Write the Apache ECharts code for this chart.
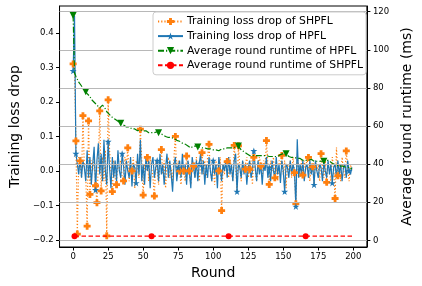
<!DOCTYPE html>
<html><head><meta charset="utf-8">
<script src="https://cdn.jsdelivr.net/npm/echarts@6/dist/echarts.min.js"></script>
<style>html,body{margin:0;padding:0;background:#fff}#c{width:422px;height:286px}</style>
</head><body><div id="c"></div>
<script>
// ---- data ----
const xTicks = [0, 25, 50, 75, 100, 125, 150, 175, 200];
const lossTicks = [-0.2, -0.1, 0.0, 0.1, 0.2, 0.3, 0.4];
const timeTicks = [0, 20, 40, 60, 80, 100, 120];
const seriesNames = ['Training loss drop of SHPFL', 'Training loss drop of HPFL',
  'Average round runtime of HPFL', 'Average round runtime of SHPFL'];

const lossSHPFL = [
  .31, .29, .087, -.183, .04, .029, -.02, .16, .01, -.01,
  -.16, .145, -.068, .03, .00, .05, -.043, -.092, .02, .174,
  -.058, .04, -.03, .06, -.188, .206, .06, .00, -.06, .03,
  -.02, -.04, .05, .00, .03, -.02, -.029, .04, .01, .067,
  -.03, .02, .00, .04, -.05, .03, .01, -.02, .121, .03,
  -.07, .02, .00, .039, -.03, .04, .01, -.02, -.073, .03,
  .00, -.04, .02, .062, -.01, .03, -.05, .02, .04, -.02,
  .01, -.03, .04, .10, -.02, .03, .00, -.04, .02, .00,
  -.03, .043, .01, .00, -.04, .03, .014, -.02, .04, .00,
  -.03, .02, .053, -.01, .03, -.02, .04, .077, .00, -.03,
  .02, -.04, .03, .01, .00, .04, -.115, .02, -.01, .03,
  .027, -.02, .04, .00, -.03, .074, .02, -.06, .073, .01,
  -.03, .03, .00, .005, .04, -.02, .005, .03, -.04, .039,
  .00, -.03, .02, .04, .014, -.02, .03, .01, .088, .02,
  -.039, .03, .00, .04, -.02, .01, -.03, .03, .02, .045,
  -.01, .03, -.05, .02, .00, .03, -.02, .04, -.005, -.095,
  .05, .01, -.02, .03, -.012, .03, .00, .04, .039, -.03,
  .02, .012, -.04, .03, .00, .02, -.03, .05, .01, -.02,
  .03, -.033, .02, .00, -.03, .04, .01, -.08, .068, -.014,
  .02, -.03, .04, .00, -.02, .058, .01, -.03, .02, .00
];
const lossHPFL = [
  .29, .45, .05, .02, -.01, .04, -.02, .03, .01, -.03,
  .06, -.02, .04, -.04, .02, .07, -.055, .03, .08, -.01,
  .05, -.03, .09, .00, -.04, .085, .01, -.05, .04, -.02,
  .03, -.03, .06, .00, -.02, .05, .015, -.04, .03, .00,
  -.02, .04, -.045, .02, .01, -.035, .05, -.01, .09, -.03,
  .02, -.04, .04, .00, .03, -.05, .02, .04, -.02, .01,
  .03, -.03, .05, -.01, .02, -.04, .01, .05, -.02, .03,
  -.01, -.06, .02, .04, -.03, .01, .03, -.02, .05, -.01,
  .02, -.04, .03, .00, -.05, .04, .01, -.02, .03, -.03,
  .02, .05, -.01, .03, -.04, .02, -.02, .04, .00, -.03,
  .03, -.01, .02, -.05, .04, .01, -.03, .02, .00, .03,
  -.02, .04, -.01, .02, -.03, .03, .05, -.06, .02, .01,
  -.02, .03, -.01, .02, -.04, .01, .03, -.02, .00, .058,
  .01, -.03, .03, -.01, .02, -.04, .02, .00, .04, -.02,
  .01, -.03, .03, .00, -.02, .04, -.01, .02, -.035, .03,
  .00, -.06, .02, .01, -.02, .03, -.01, .02, .00, -.103,
  .092, -.02, .02, -.01, .03, -.03, .01, .02, -.02, .03,
  -.01, .02, -.04, .03, .00, -.02, .02, .01, -.03, .025,
  .00, -.02, .03, -.01, .02, -.035, .01, .02, -.02, .03,
  -.01, .02, -.03, .01, .02, -.02, .03, .00, -.01, .01
];
const runtimeHPFL = [
  118, 88, 86, 84.5, 83, 82, 81, 80, 78.5, 78,
  77, 76, 75.5, 74, 73.5, 72.5, 72, 71, 70, 69.5,
  70.5, 71, 70, 69, 67.5, 66.5, 66, 65, 64.5, 64,
  63.5, 63, 62.5, 62, 61.5, 61, 60.5, 60, 59.5, 59,
  59.5, 59, 58.5, 58, 58.5, 58, 57.5, 58.5, 58, 57.5,
  57.5, 57, 57.5, 57, 56.5, 57, 56.5, 57, 56.5, 57,
  57, 56.5, 56, 55.5, 55.5, 55, 54.5, 54.5, 54, 54.5,
  54, 53.5, 53.5, 53, 52.5, 52, 52, 51.5, 51, 50.5,
  50.5, 50, 49.5, 48.5, 48.5, 49, 49.5, 49, 49.5, 49,
  49, 48.5, 48.5, 48, 48.5, 48, 48, 47.5, 48, 47.5,
  47.5, 48, 47.5, 47.5, 47, 47.5, 48, 47.5, 48, 48,
  48.5, 48, 48.5, 49, 48.5, 49, 49, 49, 49.5, 48.5,
  47.5, 47, 46.5, 46, 45.5, 45, 44.5, 45, 44.5, 45,
  44.5, 45, 44.5, 44, 44.5, 44, 44.5, 44, 44.5, 44,
  44, 43.5, 44, 44.5, 44, 43.5, 44, 44.5, 45, 45.5,
  45.5, 45, 45.5, 44.5, 44, 43.5, 43.5, 43, 43.5, 43,
  43, 42.5, 43, 42.5, 42, 42.5, 42, 42.5, 42, 42,
  42.5, 42, 41.5, 42, 41.5, 41, 41.5, 42, 41.5, 41.5,
  42, 42.5, 42, 41.5, 41, 40.5, 40, 40.5, 39.5, 39.5,
  39, 39.5, 39, 38.5, 38.5, 38, 38.5, 38, 37.5, 38
];
const runtimeSHPFL = [
  2.2, 2.2, 2.2, 2.2, 2.2, 2.2, 2.2, 2.2, 2.2, 2.2, 2.2, 2.2, 2.2, 2.2, 2.2, 2.2, 2.2, 2.2, 2.2, 2.2,
  2.2, 2.2, 2.2, 2.2, 2.2, 2.2, 2.2, 2.2, 2.2, 2.2, 2.2, 2.2, 2.2, 2.2, 2.2, 2.2, 2.2, 2.2, 2.2, 2.2,
  2.2, 2.2, 2.2, 2.2, 2.2, 2.2, 2.2, 2.2, 2.2, 2.2, 2.2, 2.2, 2.2, 2.2, 2.2, 2.2, 2.2, 2.2, 2.2, 2.2,
  2.2, 2.2, 2.2, 2.2, 2.2, 2.2, 2.2, 2.2, 2.2, 2.2, 2.2, 2.2, 2.2, 2.2, 2.2, 2.2, 2.2, 2.2, 2.2, 2.2,
  2.2, 2.2, 2.2, 2.2, 2.2, 2.2, 2.2, 2.2, 2.2, 2.2, 2.2, 2.2, 2.2, 2.2, 2.2, 2.2, 2.2, 2.2, 2.2, 2.2,
  2.2, 2.2, 2.2, 2.2, 2.2, 2.2, 2.2, 2.2, 2.2, 2.2, 2.2, 2.2, 2.2, 2.2, 2.2, 2.2, 2.2, 2.2, 2.2, 2.2,
  2.2, 2.2, 2.2, 2.2, 2.2, 2.2, 2.2, 2.2, 2.2, 2.2, 2.2, 2.2, 2.2, 2.2, 2.2, 2.2, 2.2, 2.2, 2.2, 2.2,
  2.2, 2.2, 2.2, 2.2, 2.2, 2.2, 2.2, 2.2, 2.2, 2.2, 2.2, 2.2, 2.2, 2.2, 2.2, 2.2, 2.2, 2.2, 2.2, 2.2,
  2.2, 2.2, 2.2, 2.2, 2.2, 2.2, 2.2, 2.2, 2.2, 2.2, 2.2, 2.2, 2.2, 2.2, 2.2, 2.2, 2.2, 2.2, 2.2, 2.2,
  2.2, 2.2, 2.2, 2.2, 2.2, 2.2, 2.2, 2.2, 2.2, 2.2, 2.2, 2.2, 2.2, 2.2, 2.2, 2.2, 2.2, 2.2, 2.2, 2.2
];
// indices of points carrying a marker
const marksSHPFL = [0,2,3,5,7,10,11,12,16,17,19,20,24,25,28,31,36,39,42,48,50,53,58,63,73,76,79,81,83,86,92,97,104,106,110,115,118,123,126,129,134,138,140,144,149,158,159,164,168,171,177,181,187,189,195];
const marksHPFL = [0,2,16,25,35,45,60,75,90,100,117,129,140,151,159,172,185,197];
const marksRtHPFL = [0,9,34,61,89,118,152,179];
const marksRtSHPFL = [0,55,110,165];
const firstRoundLoss = 0;     // loss & HPFL runtime start at round 0
const firstRoundSHPFLrt = 1;  // SHPFL runtime drawn from round 1

// ---- chart ----
const FONT = 'DejaVu Sans';
const toPts = (arr, start) => arr.map((v, i) => [start + i, v]);
const sizeFn = (marks, s) => (val, p) => marks.indexOf(p.dataIndex) >= 0 ? s : 0;
const PLUS = 'path://M3,0H7V3H10V7H7V10H3V7H0V3H3Z';
const STAR = 'path://M5,0L6.18,3.62L10,3.62L6.91,5.86L8.09,9.5L5,7.26L1.91,9.5L3.09,5.86L0,3.62L3.82,3.62Z';
const fmtLoss = v => (v < 0 ? '\u2212' : '') + Math.abs(v).toFixed(1);

const chart = echarts.init(document.getElementById('c'), null, {renderer: 'canvas'});
chart.setOption({
  animation: false,
  backgroundColor: '#fff',
  textStyle: {fontFamily: FONT},
  grid: {left: 52, right: 47, top: 6, bottom: 39, show: true, borderColor: '#000', borderWidth: 1, backgroundColor: 'transparent'},
  legend: {
    orient: 'vertical', left: 153, top: 12, width: 216, z: 10,
    data: seriesNames,
    itemWidth: 25, itemHeight: 9, itemGap: 3.6,
    padding: [4, 3, 4, 4],
    backgroundColor: '#ffffff', borderColor: '#cccccc', borderWidth: 1, borderRadius: 3,
    textStyle: {fontSize: 10.8, color: '#000', fontFamily: FONT, padding: [0, 0, 0, -1]}
  },
  xAxis: {
    type: 'value', min: -9.7, max: 209.7, name: 'Round', nameLocation: 'middle', nameGap: 18,
    nameTextStyle: {fontSize: 14, color: '#000', fontFamily: FONT},
    axisLine: {show: true, onZero: false, lineStyle: {color: '#000', width: 1}},
    axisTick: {show: true, length: 3.5, inside: false, customValues: xTicks, lineStyle: {color: '#000'}},
    axisLabel: {customValues: xTicks, fontSize: 8.5, color: '#000', margin: 5, fontFamily: FONT},
    splitLine: {show: false}
  },
  yAxis: [{
    type: 'value', position: 'left', min: -0.2205, max: 0.478,
    name: 'Training loss drop', nameLocation: 'middle', nameGap: 32, nameRotate: 90,
    nameTextStyle: {fontSize: 14, color: '#000', fontFamily: FONT},
    axisLine: {show: true, onZero: false, lineStyle: {color: '#000', width: 1}},
    axisTick: {show: true, length: 3.5, customValues: lossTicks, lineStyle: {color: '#000'}},
    axisLabel: {customValues: lossTicks, formatter: fmtLoss, fontSize: 8.5, color: '#000', margin: 6, fontFamily: FONT},
    splitLine: {show: false}
  }, {
    type: 'value', position: 'right', min: -3.5, max: 123.0,
    name: 'Average round runtime (ms)', nameLocation: 'middle', nameGap: 26, nameRotate: 90,
    nameTextStyle: {fontSize: 14, color: '#000', fontFamily: FONT},
    axisLine: {show: true, onZero: false, lineStyle: {color: '#000', width: 1}},
    axisTick: {show: true, length: 3.5, customValues: timeTicks, lineStyle: {color: '#000'}},
    axisLabel: {customValues: timeTicks, fontSize: 8.5, color: '#000', margin: 6, fontFamily: FONT},
    splitLine: {show: false}
  }],
  series: [{
    name: seriesNames[0], type: 'line', yAxisIndex: 0, z: 1,
    data: toPts(lossSHPFL, firstRoundLoss),
    showSymbol: true, showAllSymbol: true, symbol: PLUS, symbolSize: sizeFn(marksSHPFL, 7),
    lineStyle: {color: '#ff7f0e', width: 1.2, type: [1.2, 2]},
    itemStyle: {color: '#ff7f0e'}
  }, {
    name: seriesNames[1], type: 'line', yAxisIndex: 0, z: 1,
    data: toPts(lossHPFL, firstRoundLoss),
    showSymbol: true, showAllSymbol: true, symbol: STAR, symbolSize: sizeFn(marksHPFL, 7),
    lineStyle: {color: '#1f77b4', width: 1.2, type: 'solid'},
    itemStyle: {color: '#1f77b4'}
  }, {
    name: seriesNames[3], type: 'line', yAxisIndex: 1, z: 2,
    data: toPts(runtimeSHPFL, firstRoundSHPFLrt),
    showSymbol: true, showAllSymbol: true, symbol: 'circle', symbolSize: sizeFn(marksRtSHPFL, 6),
    lineStyle: {color: '#ff0000', width: 1.2, type: [4.5, 2.5]},
    itemStyle: {color: '#ff0000'},
    markLine: {
      silent: true, symbol: 'none', label: {show: false},
      lineStyle: {color: '#b8b8b8', width: 1, type: 'solid'},
      emphasis: {disabled: true},
      data: timeTicks.map(t => ({yAxis: t}))
    }
  }, {
    name: seriesNames[2], type: 'line', yAxisIndex: 1, z: 3,
    data: toPts(runtimeHPFL, firstRoundLoss),
    showSymbol: true, showAllSymbol: true, symbol: 'triangle', symbolRotate: 180, symbolSize: sizeFn(marksRtHPFL, 7),
    lineStyle: {color: '#008000', width: 1.2, type: [6, 2, 1.2, 2]},
    itemStyle: {color: '#008000'}
  }]
});
</script>
</body></html>
